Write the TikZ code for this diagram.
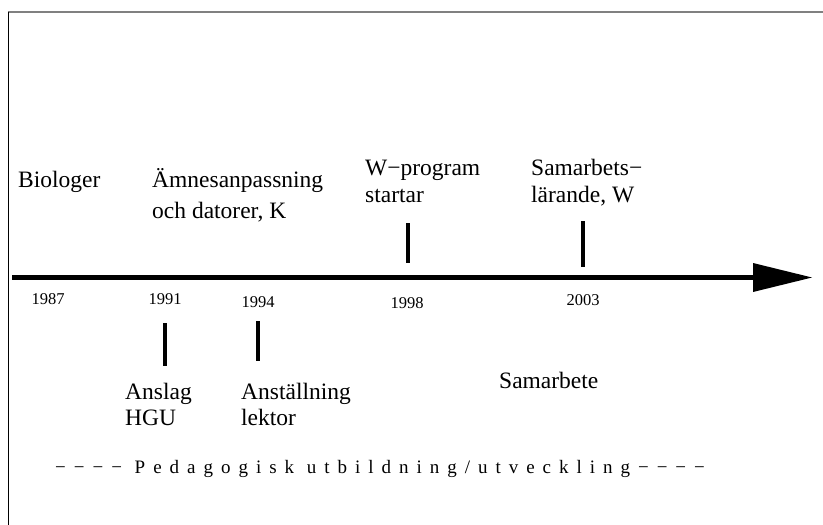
\documentclass[tikz,border=0pt]{standalone}
\usepackage{fontspec}
\setmainfont{Liberation Serif}
\begin{document}
\begin{tikzpicture}[x=1pt,y=-1pt,
  lbl/.style={anchor=base west,inner sep=0pt,font=\fontsize{23.5}{27}\selectfont},
  yr/.style={anchor=base,inner sep=0pt,font=\fontsize{16.5}{19}\selectfont},
  tick/.style={line width=4pt,black},
  ped/.style={anchor=base west,inner sep=0pt,font=\fontsize{19}{22}\selectfont\addfontfeatures{LetterSpace=42}}]
\useasboundingbox (0,0) rectangle (823,525);
% frame
\coordinate (tl) at (8,12);
\coordinate (tr) at (823,12);
\coordinate (bl) at (8,525);
\draw[gray,line width=1.5pt] (tl) -- (tr);
\draw[black,line width=1pt] (tl) -- (bl);
% axis
\coordinate (a0) at (12,277.5);
\coordinate (a1) at (754,277.5);
\coordinate (tip) at (812,277.5);
\draw[line width=5pt] (a0) -- (a1);
\fill (753,263) -- (tip) -- (753,292) -- cycle;
% ticks
\coordinate (t98a) at (408,223); \coordinate (t98b) at (408,263);
\coordinate (t03a) at (583,221); \coordinate (t03b) at (583,267);
\coordinate (t91a) at (165,323); \coordinate (t91b) at (165,366);
\coordinate (t94a) at (258,321); \coordinate (t94b) at (258,361);
\draw[tick] (t98a) -- (t98b);
\draw[tick] (t03a) -- (t03b);
\draw[tick] (t91a) -- (t91b);
\draw[tick] (t94a) -- (t94b);
% years
\node[yr] (y87) at (48,304) {1987};
\node[yr] (y91) at (165,304) {1991};
\node[yr] (y94) at (258,307) {1994};
\node[yr] (y98) at (407,308) {1998};
\node[yr] (y03) at (583,305) {2003};
% top labels
\node[lbl] (bio) at (18,187) {Biologer};
\node[lbl] (amn1) at (152,187) {Ämnesanpassning};
\node[lbl] (amn2) at (152,218) {och datorer, K};
\node[lbl] (wp1) at (365,175) {W−program};
\node[lbl] (wp2) at (365,202) {startar};
\node[lbl] (sam1) at (531,175) {Samarbets−};
\node[lbl] (sam2) at (531,202) {lärande, W};
% bottom labels
\node[lbl] (ans1) at (125,399) {Anslag};
\node[lbl] (ans2) at (125,425) {HGU};
\node[lbl] (anst1) at (241,399) {Anställning};
\node[lbl] (anst2) at (241,425) {lektor};
\node[lbl] (samb) at (499,388) {Samarbete};
\node[ped] (ped) at (55,473) {−−−− Pedagogisk utbildning/utveckling−−−−};
\end{tikzpicture}
\end{document}
